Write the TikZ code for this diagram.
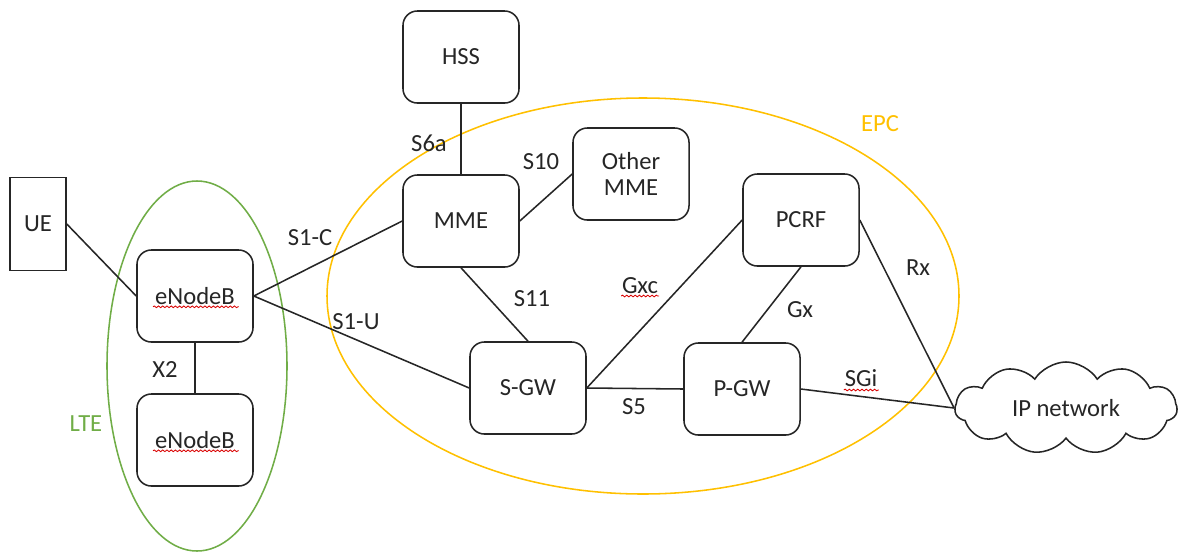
\documentclass[tikz,border=0pt]{standalone}
\usepackage{fontspec}
\setmainfont{Carlito}
\usetikzlibrary{shapes.symbols,decorations.pathmorphing}
\definecolor{ink}{HTML}{262626}
\definecolor{ltegreen}{HTML}{70AD47}
\definecolor{epcgold}{HTML}{FFC000}
\tikzset{
  every node/.style={font=\fontsize{17.5}{20}\selectfont, text=ink},
  netbox/.style={draw=ink, line width=1.1pt, rounded corners=0.36cm,
    minimum width=2.9cm, minimum height=2.3cm, align=center, inner sep=0pt},
  uebox/.style={draw=ink, line width=1.1pt, minimum width=1.4cm,
    minimum height=2.33cm, inner sep=0pt},
  link/.style={draw=ink, line width=1.1pt},
  squig/.style={draw=red!85!black, line width=0.6pt,
    decorate, decoration={snake, amplitude=0.6pt, segment length=3pt}},
}
\begin{document}
\begin{tikzpicture}[x=0.025cm, y=-0.025cm]
\useasboundingbox (0,0) rectangle (1190,554);

% domains
\draw[ltegreen, line width=1.1pt] (197,366) ellipse [x radius=90, y radius=185];
\draw[epcgold, line width=1.1pt] (643,296) ellipse [x radius=316, y radius=198];
\node[text=ltegreen] (lte) at (86,424) {LTE};
\node[text=epcgold] (epc) at (880,124) {EPC};

% network elements
\node[uebox] (ue) at (38,224) {UE};
\node[netbox] (enb1) at (195,296) {eNodeB};
\node[netbox] (enb2) at (195,440) {eNodeB};
\node[netbox] (hss) at (461,57) {HSS};
\node[netbox] (mme) at (461,221) {MME};
\node[netbox] (omme) at (631,174) {Other\\[-2pt]MME};
\node[netbox] (pcrf) at (801,220) {PCRF};
\node[netbox] (sgw) at (528,388) {S-GW};
\node[netbox] (pgw) at (742,389) {P-GW};
\node[cloud, draw=ink, line width=1.1pt, cloud puffs=11, cloud puff arc=115,
  aspect=2.4, minimum width=5.55cm, minimum height=2.3cm, inner sep=0pt]
  (ip) at (1066,408) {IP network};

% interfaces
\draw[link] (ue.east) -- (enb1.west);
\draw[link] (enb1.south) -- (enb2.north);
\draw[link] (enb1.east) -- (mme.west);
\draw[link] (enb1.east) -- (sgw.west);
\draw[link] (hss.south) -- (mme.north);
\draw[link] (mme.east) -- (omme.west);
\draw[link] (mme.south) -- (sgw.north);
\draw[link] (sgw.east) -- (pcrf.west);
\draw[link] (sgw.east) -- (pgw.west);
\draw[link] (pcrf.south) -- (pgw.north);
\draw[link] (pcrf.east) -- (ip.west);
\draw[link] (pgw.east) -- (ip.west);

% interface labels
\node (x2) at (165,370) {X2};
\node (s1c) at (310,238) {S1-C};
\node (s1u) at (356,322) {S1-U};
\node (s6a) at (429,143) {S6a};
\node (s10) at (541,162) {S10};
\node (s11) at (532,299) {S11};
\node (gxc) at (640,286) {Gxc};
\node (gx) at (800,310) {Gx};
\node (s5) at (634,407) {S5};
\node (sgi) at (861,378) {SGi};
\node (rx) at (918,268) {Rx};

% spell-check underlines
\draw[squig] ([xshift=-1.05cm, yshift=-0.27cm]enb1.center) -- ++(86,0);
\draw[squig] ([xshift=-1.05cm, yshift=-0.27cm]enb2.center) -- ++(86,0);
\draw[squig] ([xshift=-0.47cm, yshift=-0.25cm]gxc.center) -- ++(38,0);
\draw[squig] ([xshift=-0.43cm, yshift=-0.3cm]sgi.center) -- ++(35,0);
\end{tikzpicture}
\end{document}
